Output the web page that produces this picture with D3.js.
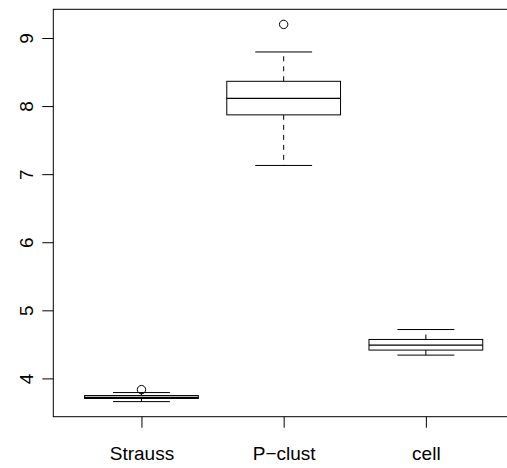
<!DOCTYPE html>
<html>
<head>
<meta charset="utf-8">
<script src="https://cdn.jsdelivr.net/npm/d3@7"></script>
<style>
  body { margin: 0; background: #fff; }
  svg { display: block; font-family: "Liberation Sans", Arial, Helvetica, sans-serif; }
</style>
</head>
<body>
<svg id="chart" width="507" height="468"></svg>
<script>
// box statistics
var categories = ["Strauss", "P\u2212clust", "cell"];
var whiskerLow = [3.659, 7.128, 4.342];
var quart1 = [3.705, 7.871, 4.416];
var medians = [3.722, 8.114, 4.489];
var quart3 = [3.748, 8.364, 4.572];
var whiskerHigh = [3.792, 8.795, 4.718];
var outliers = [[3.835], [9.2], []];
var yTicks = [4, 5, 6, 7, 8, 9];

var svg = d3.select("#chart");
var plotLeft = 53.3, plotTop = 9.3, plotBottom = 416.7;
var n = categories.length;

// R style 4% padding
var xPad = 0.04 * n;
var x = d3.scaleLinear()
    .domain([0.5 - xPad, n + 0.5 + xPad])
    .range([plotLeft, plotLeft + 142.2 * (n + 2 * xPad)]);

var allVals = whiskerLow.concat(whiskerHigh, d3.merge(outliers));
var yMin = d3.min(allVals), yMax = d3.max(allVals);
var yPad = 0.04 * (yMax - yMin);
var y = d3.scaleLinear()
    .domain([yMin - yPad, yMax + yPad])
    .range([plotBottom, plotTop]);

var boxHalf = 0.4 * (x(2) - x(1));
var stapleHalf = boxHalf / 2;

var data = categories.map(function(c, i) {
    return {i: i + 1, name: c, lo: whiskerLow[i], q1: quart1[i], med: medians[i],
            q3: quart3[i], hi: whiskerHigh[i], out: outliers[i]};
});

var g = svg.append("g");
var boxes = g.selectAll("g.box")
    .data(data)
    .enter()
    .append("g")
    .attr("class", "box");

// whiskers
boxes.append("line")
    .attr("x1", function(d) { return x(d.i); })
    .attr("x2", function(d) { return x(d.i); })
    .attr("y1", function(d) { return y(d.q3); })
    .attr("y2", function(d) { return y(d.hi); })
    .style("stroke", "black").style("stroke-dasharray", "5,5");
boxes.append("line")
    .attr("x1", function(d) { return x(d.i); })
    .attr("x2", function(d) { return x(d.i); })
    .attr("y1", function(d) { return y(d.q1); })
    .attr("y2", function(d) { return y(d.lo); })
    .style("stroke", "black").style("stroke-dasharray", "5,5");

// staples
["lo", "hi"].forEach(function(k) {
    boxes.append("line")
        .attr("x1", function(d) { return x(d.i) - stapleHalf; })
        .attr("x2", function(d) { return x(d.i) + stapleHalf; })
        .attr("y1", function(d) { return y(d[k]); })
        .attr("y2", function(d) { return y(d[k]); })
        .style("stroke", "black");
});

// box
boxes.append("rect")
    .attr("x", function(d) { return x(d.i) - boxHalf; })
    .attr("width", boxHalf * 2)
    .attr("y", function(d) { return y(d.q3); })
    .attr("height", function(d) { return y(d.q1) - y(d.q3); })
    .style("fill", "none").style("stroke", "black");

// median
boxes.append("line")
    .attr("x1", function(d) { return x(d.i) - boxHalf; })
    .attr("x2", function(d) { return x(d.i) + boxHalf; })
    .attr("y1", function(d) { return y(d.med); })
    .attr("y2", function(d) { return y(d.med); })
    .style("stroke", "black").style("stroke-width", 1.2);

// outliers
boxes.selectAll("circle")
    .data(function(d) { return d.out.map(function(v) { return {i: d.i, v: v}; }); })
    .enter()
    .append("circle")
    .attr("cx", function(d) { return x(d.i); })
    .attr("cy", function(d) { return y(d.v); })
    .attr("r", 4.2)
    .style("fill", "none").style("stroke", "black");

// frame
svg.append("rect")
    .attr("x", plotLeft)
    .attr("y", plotTop)
    .attr("width", x.range()[1] - plotLeft)
    .attr("height", plotBottom - plotTop)
    .style("fill", "none").style("stroke", "black");

// axes
var yAxis = svg.append("g")
    .attr("transform", "translate(" + plotLeft + ",0)")
    .call(d3.axisLeft(y).tickValues(yTicks).tickFormat(d3.format("d"))
        .tickSize(11).tickSizeOuter(0));
yAxis.select(".domain").remove();
yAxis.selectAll("text")
    .attr("x", 0).attr("dy", 0)
    .attr("transform", "translate(-20,0) rotate(-90)")
    .style("text-anchor", "middle");

var xAxis = svg.append("g")
    .attr("transform", "translate(0," + plotBottom + ")")
    .call(d3.axisBottom(x).tickValues(d3.range(1, n + 1))
        .tickFormat(function(d) { return categories[d - 1]; })
        .tickSize(11).tickSizeOuter(0));
xAxis.select(".domain").remove();
xAxis.selectAll("text")
    .attr("y", 43.3).attr("dy", 0);

svg.selectAll("g[font-family]").attr("font-family", null).attr("font-size", null);
svg.selectAll(".tick text").style("font-size", "19px").style("fill", "black");
</script>
</body>
</html>
